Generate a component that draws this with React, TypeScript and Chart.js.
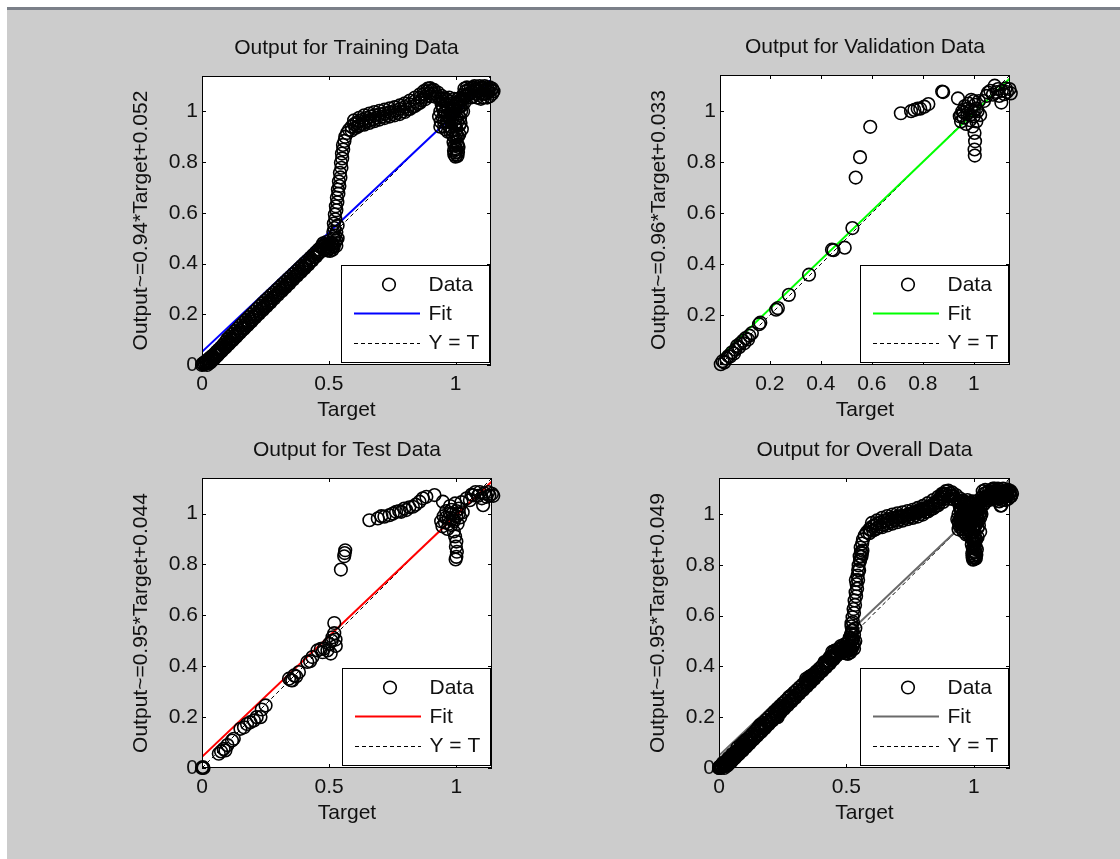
import React, { useEffect, useRef } from 'react';
import { Chart, registerables } from 'chart.js';

Chart.register(...registerables);

type Pt = [number, number];

// ---------- DATA (Target, Output) ----------
const trainingPoints: Pt[] = [
  // dense start of the band
  [0, 0], [0.003, 0.006], [0.006, 0.002], [0.009, 0.01], [0.012, 0.004], [0.015, 0.014], [0.018, 0.008],
  [0.021, 0.019], [0.024, 0.012], [0.027, 0.024], [0.03, 0.017], [0.034, 0.03], [0.037, 0.022], [0.041, 0.036],
  [0.045, 0.029], [0.049, 0.043], [0.053, 0.037], [0.057, 0.052], [0.061, 0.045], [0.065, 0.06], [0.07, 0.054],
  [0.074, 0.069], [0.078, 0.063], [0.083, 0.079], [0.087, 0.072], [0.092, 0.09], [0.096, 0.083], [0.1, 0.102],
  // band along Y = T
  [0.105, 0.094], [0.11, 0.112], [0.115, 0.103], [0.12, 0.122], [0.126, 0.113], [0.131, 0.134], [0.136, 0.124],
  [0.142, 0.145], [0.147, 0.135], [0.152, 0.156], [0.158, 0.146], [0.163, 0.167], [0.168, 0.157], [0.174, 0.178],
  [0.179, 0.168], [0.185, 0.189], [0.19, 0.179], [0.196, 0.2], [0.201, 0.19], [0.207, 0.211], [0.212, 0.2],
  [0.218, 0.222], [0.223, 0.211], [0.229, 0.233], [0.234, 0.222], [0.24, 0.244], [0.245, 0.232], [0.251, 0.255],
  [0.256, 0.243], [0.262, 0.265], [0.267, 0.253], [0.273, 0.276], [0.278, 0.264], [0.284, 0.286], [0.289, 0.274],
  [0.295, 0.297], [0.3, 0.285], [0.306, 0.307], [0.311, 0.295], [0.317, 0.318], [0.322, 0.306], [0.328, 0.328],
  [0.333, 0.316], [0.339, 0.339], [0.344, 0.327], [0.35, 0.349], [0.355, 0.337], [0.361, 0.36], [0.366, 0.348],
  [0.372, 0.37], [0.377, 0.358], [0.383, 0.381], [0.388, 0.369], [0.394, 0.391], [0.399, 0.38], [0.405, 0.402],
  [0.41, 0.391], [0.416, 0.412], [0.421, 0.402], [0.427, 0.423], [0.432, 0.413], [0.438, 0.434], [0.443, 0.425],
  [0.449, 0.445], [0.454, 0.437], [0.46, 0.456], [0.465, 0.449], [0.47, 0.465],
  // lower edge of band
  [0.02, 0.0], [0.035, 0.012], [0.05, 0.027], [0.065, 0.042], [0.08, 0.057], [0.095, 0.072], [0.11, 0.088],
  [0.125, 0.103], [0.14, 0.118], [0.155, 0.134], [0.17, 0.149], [0.185, 0.164], [0.2, 0.18], [0.215, 0.195],
  [0.23, 0.21], [0.245, 0.226], [0.26, 0.241], [0.275, 0.256], [0.29, 0.272], [0.305, 0.287], [0.32, 0.302],
  [0.335, 0.318], [0.35, 0.333], [0.365, 0.348], [0.38, 0.364], [0.395, 0.379], [0.41, 0.395], [0.425, 0.41],
  [0.44, 0.426], [0.455, 0.44],
  [0.03, 0.008], [0.045, 0.022], [0.06, 0.037], [0.075, 0.052], [0.09, 0.067], [0.105, 0.082], [0.12, 0.097],
  [0.135, 0.112], [0.15, 0.127], [0.165, 0.142], [0.18, 0.157], [0.195, 0.172], [0.21, 0.187], [0.225, 0.202],
  [0.24, 0.217], [0.255, 0.232], [0.27, 0.247], [0.285, 0.262], [0.3, 0.277], [0.315, 0.292], [0.33, 0.307],
  [0.345, 0.322], [0.36, 0.337], [0.375, 0.352], [0.39, 0.367], [0.405, 0.382], [0.42, 0.397], [0.435, 0.412],
  [0.45, 0.428], [0.462, 0.442],
  // knee around Target = 0.5
  [0.475, 0.47], [0.48, 0.458], [0.485, 0.474], [0.49, 0.462], [0.495, 0.476], [0.5, 0.46], [0.505, 0.473],
  [0.51, 0.462], [0.515, 0.476], [0.52, 0.468], [0.525, 0.484], [0.53, 0.492], [0.52, 0.5], [0.525, 0.51],
  [0.478, 0.48], [0.49, 0.485], [0.5, 0.475], [0.51, 0.48], [0.515, 0.455], [0.505, 0.45], [0.495, 0.452],
  [0.485, 0.455], [0.53, 0.47], [0.535, 0.5], [0.53, 0.525], [0.535, 0.55],
  // steep rise
  [0.518, 0.525], [0.522, 0.54], [0.52, 0.558], [0.526, 0.575], [0.524, 0.594], [0.53, 0.61], [0.528, 0.626],
  [0.534, 0.642], [0.532, 0.66], [0.538, 0.676], [0.536, 0.692], [0.542, 0.706], [0.54, 0.724], [0.546, 0.74],
  [0.544, 0.758], [0.55, 0.778], [0.548, 0.798], [0.553, 0.815], [0.552, 0.834], [0.557, 0.85], [0.556, 0.868],
  [0.562, 0.884], [0.565, 0.9], [0.572, 0.915], [0.58, 0.928], [0.59, 0.94], [0.6, 0.95],
  // upper curve
  [0.61, 0.955], [0.615, 0.94], [0.62, 0.962], [0.63, 0.95], [0.635, 0.968], [0.645, 0.958], [0.65, 0.975],
  [0.66, 0.965], [0.665, 0.98], [0.675, 0.97], [0.68, 0.985], [0.69, 0.975], [0.7, 0.99], [0.71, 0.98],
  [0.72, 0.993], [0.73, 0.985], [0.74, 0.998], [0.75, 0.99], [0.76, 1.003], [0.77, 0.995], [0.78, 1.01],
  [0.79, 1.0], [0.8, 1.018], [0.81, 1.008], [0.82, 1.028], [0.83, 1.018], [0.84, 1.04], [0.85, 1.03],
  [0.86, 1.055], [0.865, 1.045], [0.875, 1.068], [0.88, 1.058], [0.89, 1.08], [0.895, 1.072], [0.905, 1.082],
  [0.91, 1.07], [0.92, 1.072], [0.93, 1.06], [0.94, 1.05], [0.95, 1.04],
  [0.6, 0.965], [0.62, 0.975], [0.64, 0.985], [0.66, 0.992], [0.68, 0.998], [0.7, 1.003], [0.72, 1.007],
  [0.74, 1.012], [0.76, 1.017], [0.78, 1.024], [0.8, 1.032], [0.82, 1.043], [0.84, 1.055], [0.86, 1.068],
  [0.875, 1.08], [0.89, 1.09], [0.9, 1.092], [0.915, 1.085], [0.93, 1.075], [0.945, 1.062], [0.96, 1.052],
  [0.59, 0.925], [0.605, 0.935], [0.62, 0.945], [0.64, 0.948], [0.66, 0.955], [0.68, 0.962], [0.7, 0.968],
  [0.72, 0.974], [0.74, 0.98], [0.76, 0.985], [0.78, 0.99], [0.8, 0.998], [0.82, 1.01], [0.84, 1.022],
  [0.86, 1.035], [0.88, 1.048], [0.9, 1.06], [0.92, 1.058],
  // cluster near Target = 1
  [0.935, 0.98], [0.94, 1.0], [0.942, 0.96], [0.948, 1.02], [0.95, 0.975], [0.955, 0.94], [0.958, 0.995],
  [0.962, 1.03], [0.965, 0.96], [0.97, 0.985], [0.972, 1.01], [0.975, 0.94], [0.978, 0.97], [0.98, 1.04],
  [0.982, 1.0], [0.985, 0.955], [0.988, 0.925], [0.99, 0.985], [0.992, 1.02], [0.995, 0.945], [0.998, 0.97],
  [1.0, 1.0], [1.002, 0.91], [1.003, 0.93], [1.005, 1.035], [1.008, 0.96], [1.01, 0.99], [1.012, 1.015],
  [1.015, 0.945], [1.018, 0.975], [1.02, 1.045], [1.022, 1.0], [1.025, 1.025], [1.03, 1.05], [1.035, 1.035],
  [0.94, 0.94], [0.945, 1.03], [0.95, 1.05], [0.96, 0.93], [0.965, 1.045], [0.97, 0.92], [0.975, 1.055],
  [0.98, 0.92], [0.985, 1.03], [0.99, 0.905], [0.995, 1.05], [1.0, 0.94], [1.005, 0.975], [1.01, 1.05],
  [1.015, 0.91], [1.02, 0.955], [1.025, 0.93], [1.03, 1.0], [1.035, 1.06], [0.97, 0.96], [0.98, 0.99],
  [0.99, 1.01], [1.0, 1.02], [0.96, 1.0], [0.95, 1.01], [1.01, 1.03], [0.955, 0.96], [1.02, 1.02],
  // drip down to 0.82
  [0.998, 0.895], [1.002, 0.88], [0.996, 0.865], [1.004, 0.85], [0.998, 0.838], [1.005, 0.83], [1.0, 0.822],
  [1.008, 0.87], [1.01, 0.9], [0.992, 0.88], [1.012, 0.86], [1.0, 0.855], [0.994, 0.845], [1.01, 0.84],
  [1.006, 0.905], [0.995, 0.83], [1.008, 0.825],
  // plateau
  [1.03, 1.065], [1.04, 1.08], [1.045, 1.06], [1.05, 1.085], [1.055, 1.07], [1.06, 1.09], [1.065, 1.075],
  [1.07, 1.06], [1.075, 1.085], [1.08, 1.07], [1.085, 1.09], [1.09, 1.065], [1.095, 1.08], [1.1, 1.09],
  [1.105, 1.07], [1.11, 1.055], [1.115, 1.085], [1.12, 1.07], [1.125, 1.09], [1.13, 1.075], [1.135, 1.06],
  [1.14, 1.085], [1.145, 1.07], [1.1, 1.05], [1.07, 1.095],
  [1.035, 1.09], [1.045, 1.095], [1.06, 1.055], [1.075, 1.1], [1.085, 1.055], [1.095, 1.1], [1.105, 1.095],
  [1.115, 1.1], [1.125, 1.055], [1.135, 1.095], [1.145, 1.09], [1.15, 1.08], [1.11, 1.07], [1.12, 1.085],
  [1.09, 1.08], [1.08, 1.08], [1.05, 1.07], [1.13, 1.085],
];

const validationPoints: Pt[] = [
  [0.008, 0.008], [0.015, 0.02], [0.022, 0.015], [0.03, 0.03], [0.038, 0.04], [0.045, 0.038], [0.052, 0.055],
  [0.06, 0.05], [0.065, 0.065], [0.072, 0.08], [0.08, 0.075], [0.085, 0.09], [0.095, 0.1], [0.1, 0.09],
  [0.105, 0.11], [0.115, 0.105], [0.12, 0.12], [0.13, 0.13], [0.158, 0.165], [0.163, 0.171], [0.225, 0.222],
  [0.232, 0.228], [0.275, 0.28], [0.354, 0.359], [0.444, 0.457], [0.45, 0.455], [0.494, 0.465], [0.524, 0.542],
  [0.537, 0.74], [0.554, 0.82], [0.594, 0.939], [0.714, 0.992], [0.754, 1.0], [0.767, 1.005], [0.78, 1.01],
  [0.79, 1.01], [0.806, 1.018], [0.822, 1.028], [0.876, 1.077], [0.88, 1.075], [0.938, 1.05],
  [0.945, 0.98], [0.95, 0.96], [0.955, 1.0], [0.96, 0.975], [0.965, 1.02], [0.97, 0.95], [0.975, 0.99],
  [0.98, 1.03], [0.985, 0.965], [0.99, 1.005], [0.995, 0.94], [1.0, 0.98], [1.005, 1.025], [1.01, 0.96],
  [1.015, 1.0], [1.02, 1.04], [1.025, 0.985], [0.99, 1.045], [1.0, 1.0], [0.96, 0.995], [0.975, 1.01],
  [0.985, 0.985], [1.0, 1.04], [1.01, 1.01], [0.95, 0.985],
  [1.003, 0.915], [1.005, 0.882], [1.003, 0.85], [1.004, 0.826],
  [1.04, 1.04], [1.05, 1.06], [1.056, 1.073], [1.065, 1.08], [1.075, 1.065], [1.082, 1.1], [1.09, 1.075],
  [1.095, 1.087], [1.1, 1.06], [1.108, 1.034], [1.11, 1.08], [1.12, 1.067], [1.125, 1.09], [1.13, 1.075],
  [1.14, 1.087], [1.145, 1.07],
];

const testPoints: Pt[] = [
  [0, 0], [0.003, 0.004], [0.006, 0.0], [0.066, 0.056], [0.075, 0.065], [0.085, 0.075], [0.092, 0.069],
  [0.1, 0.09], [0.118, 0.108], [0.125, 0.115], [0.151, 0.154], [0.165, 0.16], [0.177, 0.173], [0.19, 0.18],
  [0.204, 0.187], [0.215, 0.2], [0.23, 0.2], [0.235, 0.23], [0.25, 0.246],
  [0.342, 0.351], [0.35, 0.345], [0.355, 0.344], [0.362, 0.364], [0.37, 0.36], [0.381, 0.377], [0.414, 0.417],
  [0.425, 0.42], [0.434, 0.436], [0.454, 0.462], [0.467, 0.468], [0.474, 0.455], [0.48, 0.47], [0.493, 0.462],
  [0.5, 0.488], [0.506, 0.45], [0.51, 0.5], [0.513, 0.514], [0.52, 0.57], [0.526, 0.48], [0.52, 0.53],
  [0.525, 0.505], [0.546, 0.78], [0.559, 0.832], [0.563, 0.856], [0.561, 0.845],
  [0.658, 0.974], [0.691, 0.981], [0.705, 0.99], [0.717, 0.988], [0.737, 0.994], [0.75, 1.0], [0.763, 1.007],
  [0.775, 1.01], [0.783, 1.007], [0.795, 1.02], [0.803, 1.014], [0.815, 1.025], [0.829, 1.027], [0.84, 1.035],
  [0.855, 1.047], [0.868, 1.06], [0.882, 1.066], [0.914, 1.073], [0.947, 1.047],
  [0.94, 0.97], [0.945, 0.95], [0.95, 0.99], [0.955, 0.965], [0.96, 1.01], [0.965, 0.94], [0.97, 0.98],
  [0.975, 1.03], [0.98, 0.955], [0.985, 1.0], [0.99, 0.97], [0.995, 1.04], [1.0, 0.99], [1.005, 0.96],
  [1.01, 1.02], [1.015, 0.985], [1.02, 1.045], [1.025, 1.005], [0.975, 1.0], [0.99, 0.93], [0.96, 0.985],
  [0.98, 1.015], [1.0, 1.01], [0.97, 0.96], [0.985, 0.98], [1.01, 1.0],
  [0.995, 0.91], [1.0, 0.89], [0.998, 0.87], [1.002, 0.85], [1.0, 0.83], [0.997, 0.82],
  [1.04, 1.06], [1.053, 1.053], [1.06, 1.075], [1.066, 1.072], [1.075, 1.085], [1.085, 1.07], [1.092, 1.085],
  [1.1, 1.06], [1.105, 1.033], [1.11, 1.08], [1.118, 1.066], [1.125, 1.085], [1.13, 1.07], [1.14, 1.078],
  [1.145, 1.07],
];

// Overall data = union of the three subsets
const overallPoints: Pt[] = [...trainingPoints, ...validationPoints, ...testPoints];

// Fit lines (endpoints of Output ~= a*Target + b)
const trainingFit: Pt[] = [[0, 0.052], [1.14, 1.124]];
const validationFit: Pt[] = [[0.005, 0.038], [1.142, 1.129]];
const testFit: Pt[] = [[0, 0.044], [1.14, 1.127]];
const overallFit: Pt[] = [[0, 0.049], [1.142, 1.134]];

// Y = T lines
const identityFull: Pt[] = [[0, 0], [1.142, 1.142]];
const identityValidation: Pt[] = [[0.005, 0.005], [1.142, 1.142]];

// Tick values
const xTicksFull = [0, 0.5, 1];
const yTicksFull = [0, 0.2, 0.4, 0.6, 0.8, 1];
const xTicksValidation = [0.2, 0.4, 0.6, 0.8, 1];
const yTicksValidation = [0.2, 0.4, 0.6, 0.8, 1];

const titles = ['Output for Training Data', 'Output for Validation Data', 'Output for Test Data', 'Output for Overall Data'];
const yLabels = [
  'Output~=0.94*Target+0.052',
  'Output~=0.96*Target+0.033',
  'Output~=0.95*Target+0.044',
  'Output~=0.95*Target+0.049',
];
const legendLabels = ['Data', 'Fit', 'Y = T'];

// ---------- STYLE / LAYOUT ----------
const FONT = '"Liberation Sans", Arial, Helvetica, sans-serif';
const FS = 21;
const YBOX = 100;
const TITLE_H = 56;
const XBOX = 58;
const TEXT = '#111111';

type PanelCfg = {
  title: string;
  yLabel: string;
  points: Pt[];
  fit: Pt[];
  ident: Pt[];
  fitColor: string;
  min: number;
  max: number;
  xTicks: number[];
  yTicks: number[];
  area: { l: number; t: number; r: number; b: number };
};

const panels: PanelCfg[] = [
  { title: titles[0], yLabel: yLabels[0], points: trainingPoints, fit: trainingFit, ident: identityFull, fitColor: '#0000ff',
    min: 0, max: 1.14, xTicks: xTicksFull, yTicks: yTicksFull, area: { l: 202, t: 76, r: 491, b: 365 } },
  { title: titles[1], yLabel: yLabels[1], points: validationPoints, fit: validationFit, ident: identityValidation, fitColor: '#00ff00',
    min: 0.005, max: 1.142, xTicks: xTicksValidation, yTicks: yTicksValidation, area: { l: 720, t: 75, r: 1010, b: 365 } },
  { title: titles[2], yLabel: yLabels[2], points: testPoints, fit: testFit, ident: identityFull, fitColor: '#ff0000',
    min: 0, max: 1.14, xTicks: xTicksFull, yTicks: yTicksFull, area: { l: 202, t: 478, r: 492, b: 768 } },
  { title: titles[3], yLabel: yLabels[3], points: overallPoints, fit: overallFit, ident: identityFull, fitColor: '#6a6a6a',
    min: 0, max: 1.142, xTicks: xTicksFull, yTicks: yTicksFull, area: { l: 719, t: 478, r: 1010, b: 768 } },
];

const matlabAxes = {
  id: 'matlabAxes',
  beforeDraw(chart: any) {
    const { ctx, chartArea } = chart;
    const { left, top, right, bottom } = chartArea;
    ctx.save();
    ctx.fillStyle = '#ffffff';
    ctx.fillRect(left, top, right - left, bottom - top);
    ctx.restore();
  },
  afterDraw(chart: any) {
    const { ctx, chartArea } = chart;
    const { left, top, right, bottom } = chartArea;
    ctx.save();
    ctx.strokeStyle = '#000';
    ctx.lineWidth = 1;
    ctx.setLineDash([]);
    ctx.strokeRect(left + 0.5, top + 0.5, right - left - 1, bottom - top - 1);
    const L = 4;
    const xs = chart.scales.x;
    const ys = chart.scales.y;
    ctx.beginPath();
    xs.ticks.forEach((t: any) => {
      const p = Math.round(xs.getPixelForValue(t.value)) + 0.5;
      ctx.moveTo(p, bottom); ctx.lineTo(p, bottom - L);
      ctx.moveTo(p, top); ctx.lineTo(p, top + L);
    });
    ys.ticks.forEach((t: any) => {
      const p = Math.round(ys.getPixelForValue(t.value)) + 0.5;
      ctx.moveTo(left, p); ctx.lineTo(left + L, p);
      ctx.moveTo(right, p); ctx.lineTo(right - L, p);
    });
    ctx.stroke();

    // legend box (MATLAB style, inside lower-right of the axes)
    const ds = chart.data.datasets;
    const bw = 148, bh = 97;
    const bx = Math.round(right - 2 - bw) + 0.5;
    const by = Math.round(bottom - 3 - bh) + 0.5;
    ctx.fillStyle = '#fff';
    ctx.fillRect(bx, by, bw, bh);
    ctx.strokeRect(bx, by, bw, bh);
    const rows = [by + 19, by + 48, by + 77];
    ctx.beginPath();
    ctx.lineWidth = ds[0].pointBorderWidth;
    ctx.strokeStyle = ds[0].borderColor;
    ctx.arc(bx + 47.5, rows[0], 6.3, 0, Math.PI * 2);
    ctx.stroke();
    ctx.beginPath();
    ctx.lineWidth = ds[1].borderWidth;
    ctx.strokeStyle = ds[1].borderColor;
    ctx.moveTo(bx + 12.5, rows[1]); ctx.lineTo(bx + 78.5, rows[1]);
    ctx.stroke();
    ctx.beginPath();
    ctx.lineWidth = ds[2].borderWidth;
    ctx.strokeStyle = ds[2].borderColor;
    ctx.setLineDash(ds[2].borderDash);
    ctx.moveTo(bx + 12.5, Math.round(rows[2]) + 0.5); ctx.lineTo(bx + 78.5, Math.round(rows[2]) + 0.5);
    ctx.stroke();
    ctx.setLineDash([]);
    ctx.fillStyle = TEXT;
    ctx.font = `${FS}px ${FONT}`;
    ctx.textBaseline = 'middle';
    ctx.textAlign = 'left';
    ds.forEach((d: any, i: number) => ctx.fillText(d.label, bx + 87, rows[i] + 1));
    ctx.restore();
  },
};

function Panel({ cfg }: { cfg: PanelCfg }) {
  const ref = useRef<HTMLCanvasElement>(null);
  const a = cfg.area;
  const w = a.r - a.l + 2 * YBOX;
  const h = a.b - a.t + TITLE_H + XBOX;
  const left = a.l - YBOX;
  const top = a.t - TITLE_H;

  useEffect(() => {
    const toXY = (p: Pt[]) => p.map(([x, y]) => ({ x, y }));
    const tickFont = { family: FONT, size: FS };
    const chart = new Chart(ref.current as HTMLCanvasElement, {
      type: 'scatter',
      data: {
        datasets: [
          {
            label: legendLabels[0],
            data: toXY(cfg.points),
            pointStyle: 'circle',
            pointRadius: 6.3,
            pointBorderWidth: 1.6,
            borderColor: '#000',
            backgroundColor: 'rgba(0,0,0,0)',
            showLine: false,
            clip: false,
          } as any,
          {
            label: legendLabels[1],
            data: toXY(cfg.fit),
            showLine: true,
            borderColor: cfg.fitColor,
            borderWidth: 2,
            pointRadius: 0,
            fill: false,
          } as any,
          {
            label: legendLabels[2],
            data: toXY(cfg.ident),
            showLine: true,
            borderColor: '#000',
            borderWidth: 1,
            borderDash: [4, 3],
            pointRadius: 0,
            fill: false,
          } as any,
        ],
      },
      options: {
        responsive: false,
        animation: false,
        devicePixelRatio: 1,
        events: [],
        layout: { padding: { left: 0, right: YBOX, top: 0, bottom: 0 } },
        plugins: {
          legend: { display: false },
          tooltip: { enabled: false },
          title: {
            display: true,
            text: cfg.title,
            fullSize: false,
            color: TEXT,
            font: { family: FONT, size: FS, weight: 'normal' },
            padding: { top: 15.7, bottom: 15.1 },
          },
        },
        scales: {
          x: {
            type: 'linear',
            position: 'bottom',
            min: cfg.min,
            max: cfg.max,
            grid: { display: false, drawTicks: false },
            border: { display: false },
            ticks: { color: TEXT, font: tickFont, padding: 7, autoSkip: false, maxRotation: 0, callback: (v: any) => String(v) },
            afterBuildTicks: (s: any) => { s.ticks = cfg.xTicks.map((v) => ({ value: v })); },
            afterFit: (s: any) => { s.height = XBOX; },
            title: { display: true, text: 'Target', color: TEXT, font: tickFont, padding: { top: 0, bottom: 0 } },
          },
          y: {
            type: 'linear',
            position: 'left',
            min: cfg.min,
            max: cfg.max,
            grid: { display: false, drawTicks: false },
            border: { display: false },
            ticks: { color: TEXT, font: tickFont, padding: 4, autoSkip: false, callback: (v: any) => String(v) },
            afterBuildTicks: (s: any) => { s.ticks = cfg.yTicks.map((v) => ({ value: v })); },
            afterFit: (s: any) => { s.width = YBOX; },
            title: { display: true, text: cfg.yLabel, color: TEXT, font: tickFont, padding: { top: 26.4, bottom: 0 } },
          },
        },
      } as any,
      plugins: [matlabAxes],
    });
    return () => chart.destroy();
  }, []);

  return (
    <canvas
      ref={ref}
      width={w}
      height={h}
      style={{ position: 'absolute', left, top, width: w, height: h, display: 'block' }}
    />
  );
}

export default function App() {
  return (
    <div style={{ position: 'absolute', left: 0, top: 0, width: 1120, height: 859, background: '#ffffff', overflow: 'hidden' }}>
      <div
        style={{
          position: 'absolute',
          left: 7,
          top: 7,
          width: 1113,
          height: 852,
          background: '#cccccc',
          borderTop: '3px solid #7b8089',
          boxSizing: 'border-box',
        }}
      />
      {panels.map((p, i) => (
        <Panel key={i} cfg={p} />
      ))}
    </div>
  );
}
